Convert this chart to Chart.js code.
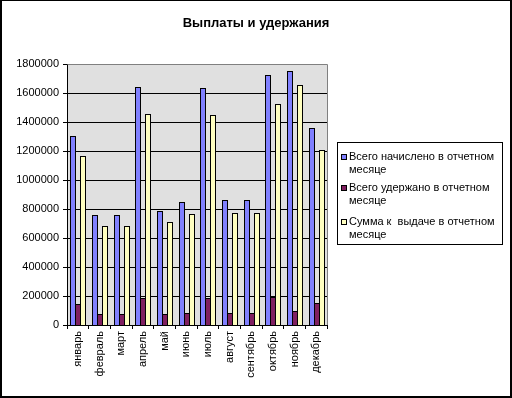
<!DOCTYPE html>
<html>
<head>
<meta charset="utf-8">
<script src="https://cdn.jsdelivr.net/npm/chart.js@4.4.1/dist/chart.umd.min.js"></script>
<style>
  html, body { margin: 0; padding: 0; background: #fff; }
  #chart { display: block; }
</style>
</head>
<body>
<canvas id="chart" width="512" height="398"></canvas>
<script>
// Данные
const months = ["январь", "февраль", "март", "апрель", "май", "июнь", "июль", "август", "сентябрь", "октябрь", "ноябрь", "декабрь"];
const accrued = [1305000, 757000, 757000, 1639000, 784000, 846000, 1632000, 860000, 860000, 1722000, 1750000, 1356000];
const withheld = [143000, 74000, 74000, 184000, 74000, 81000, 184000, 81000, 81000, 193000, 94000, 150000];
const payout = [1163000, 681000, 681000, 1453000, 708000, 763000, 1446000, 770000, 770000, 1522000, 1653000, 1205000];
const seriesNames = [
  ["Всего начислено в отчетном", "месяце"],
  ["Всего удержано в отчетном", "месяце"],
  ["Сумма к  выдаче в отчетном", "месяце"],
];
const yTicks = [0, 200000, 400000, 600000, 800000, 1000000, 1200000, 1400000, 1600000, 1800000];
const chartTitle = "Выплаты и удержания";

const colors = ["#8080FF", "#802060", "#FFFFC0"];
const font = "Arial, 'Liberation Sans', sans-serif";

// Фон области построения, заголовок и рамка
const plotBackground = {
  id: "plotBackground",
  beforeDraw(chart) {
    const { ctx, chartArea: a } = chart;
    ctx.save();
    ctx.fillStyle = "#E0E0E0";
    ctx.fillRect(a.left, a.top, a.right - a.left, a.bottom - a.top);
    ctx.restore();
  },
  afterDraw(chart) {
    const { ctx, chartArea: a, width, height } = chart;
    ctx.save();
    // серая рамка сверху и справа
    ctx.strokeStyle = "#808080";
    ctx.lineWidth = 1;
    ctx.beginPath();
    ctx.moveTo(Math.round(a.left) + 0.5, Math.round(a.top) + 0.5);
    ctx.lineTo(Math.round(a.right) + 0.5, Math.round(a.top) + 0.5);
    ctx.lineTo(Math.round(a.right) + 0.5, Math.round(a.bottom));
    ctx.stroke();
    // заголовок
    ctx.fillStyle = "#000";
    ctx.font = "bold 13px " + font;
    ctx.textAlign = "center";
    ctx.textBaseline = "alphabetic";
    ctx.fillText(chartTitle, width / 2, 27);
    // внешняя рамка
    ctx.fillRect(0, 0, width, 1);
    ctx.fillRect(0, 0, 2, height);
    ctx.fillRect(width - 2, 0, 2, height);
    ctx.fillRect(0, height - 2, width, 2);
    ctx.restore();
  },
};

// Выравнивание столбиков по пикселям (общая граница у соседних)
const crispBars = {
  id: "crispBars",
  beforeDatasetsDraw(chart) {
    chart.data.datasets.forEach((ds, i) => {
      chart.getDatasetMeta(i).data.forEach((el) => {
        const left = Math.round(el.x - el.width / 2);
        const w = Math.round(el.width) + 1;
        el.width = w;
        el.x = left + w / 2;
        el.y = Math.round(el.y);
        el.base = Math.round(el.base) + 1;
      });
    });
  },
};

// Легенда в рамке с переносом строк
const boxLegend = {
  id: "boxLegend",
  afterDraw(chart) {
    const { ctx } = chart;
    const x = 337, y = 142, w = 165, h = 102;
    ctx.save();
    ctx.fillStyle = "#fff";
    ctx.fillRect(x, y, w, h);
    ctx.strokeStyle = "#000";
    ctx.lineWidth = 1;
    ctx.strokeRect(x + 0.5, y + 0.5, w, h);
    ctx.font = "11px " + font;
    ctx.textBaseline = "middle";
    const entryTops = [157, 188, 222];
    chart.data.datasets.forEach((ds, i) => {
      const cy = entryTops[i];
      ctx.fillStyle = ds.backgroundColor;
      ctx.fillRect(341, cy - 3, 6, 6);
      ctx.strokeRect(341.5, cy - 2.5, 5, 5);
      ctx.fillStyle = "#000";
      seriesNames[i].forEach((line, j) => {
        ctx.fillText(line, 349, cy + j * 12.5);
      });
    });
    ctx.restore();
  },
};

const ctx = document.getElementById("chart").getContext("2d");
new Chart(ctx, {
  type: "bar",
  data: {
    labels: months,
    datasets: [
      { label: seriesNames[0].join(" "), data: accrued, backgroundColor: colors[0] },
      { label: seriesNames[1].join(" "), data: withheld, backgroundColor: colors[1] },
      { label: seriesNames[2].join(" "), data: payout, backgroundColor: colors[2] },
    ].map((d) => ({
      ...d,
      borderColor: "#000",
      borderWidth: 1,
      borderSkipped: false,
      inflateAmount: 0,
      categoryPercentage: 0.69,
      barPercentage: 1.0,
    })),
  },
  options: {
    responsive: false,
    animation: false,
    devicePixelRatio: 1,
    layout: { padding: { top: 64, right: 185, left: 0, bottom: 0 } },
    plugins: {
      legend: { display: false },
      tooltip: { enabled: false },
      title: { display: false },
    },
    scales: {
      x: {
        afterFit(scale) { scale.height = 73; },
        grid: {
          display: true,
          drawOnChartArea: false,
          drawTicks: true,
          tickLength: 4,
          offset: true,
          color: "#000",
        },
        border: { color: "#000", width: 1 },
        ticks: {
          autoSkip: false,
          minRotation: 90,
          maxRotation: 90,
          padding: 2,
          color: "#000",
          font: { family: font, size: 11 },
        },
      },
      y: {
        min: 0,
        max: 1800000,
        afterFit(scale) { scale.width = 67; },
        afterBuildTicks(scale) { scale.ticks = yTicks.map((v) => ({ value: v })); },
        grid: { color: "#000", lineWidth: 1, tickLength: 4 },
        border: { color: "#000", width: 1 },
        ticks: {
          padding: 4,
          color: "#000",
          font: { family: font, size: 11 },
          callback: (v) => String(v),
        },
      },
    },
  },
  plugins: [plotBackground, crispBars, boxLegend],
});
</script>
</body>
</html>
